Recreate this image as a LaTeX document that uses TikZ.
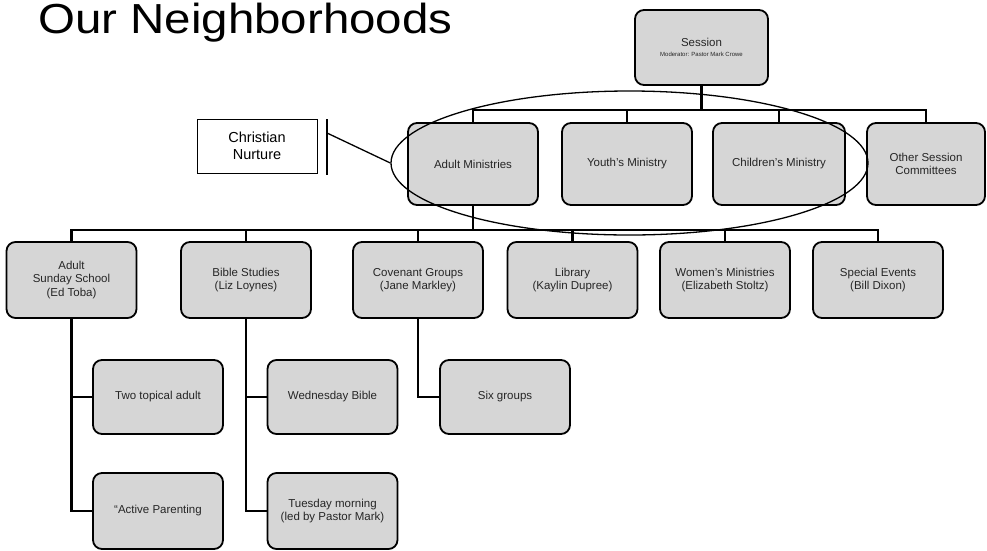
\documentclass[tikz,border=0pt]{standalone}
\usepackage{fontspec}
\setmainfont{Liberation Sans}
\newfontfamily\titlefont[FakeStretch=1.13]{Liberation Sans}
\usetikzlibrary{shapes.geometric}
\tikzset{
  orgbox/.style={draw, line width=1.8pt, rounded corners=9pt, fill=black!16,
    minimum width=130pt, minimum height=76pt, inner sep=2pt, align=center,
    text=black!85, font=\fontsize{11.5}{13.5}\selectfont},
  conn/.style={line width=2.6pt},
  thinline/.style={line width=1.3pt}
}
\begin{document}
\begin{tikzpicture}[x=1pt,y=-1pt]
\useasboundingbox (0,0) rectangle (987,550);
\fill[white] (0,0) rectangle (987,550);

\node[anchor=base west, inner sep=0, font=\titlefont\fontsize{42}{46}\selectfont] (title) at (38,33) {Our Neighborhoods};

% Level 1
\node[orgbox, minimum width=133pt, minimum height=75pt] (session) at (701.5,47.5)
  {Session\\[-3pt]{\fontsize{6}{7}\selectfont Moderator: Pastor Mark Crowe}};

% Level 2
\node[orgbox, minimum height=82pt] (adultm) at (473,164) {Adult Ministries};
\node[orgbox, minimum height=82pt] (youth) at (627,164) {Youth's Ministry};
\node[orgbox, minimum height=82pt, minimum width=132pt] (child) at (779,164) {Children's Ministry};
\node[orgbox, minimum height=82pt, minimum width=118pt] (other) at (926,164) {Other Session\\Committees};

% Level 3
\node[orgbox] (asun) at (71.5,280) {Adult\\Sunday School\\(Ed Toba)};
\node[orgbox] (bible) at (246,280) {Bible Studies\\(Liz Loynes)};
\node[orgbox] (cov) at (418,280) {Covenant Groups\\(Jane Markley)};
\node[orgbox] (lib) at (572.5,280) {Library\\(Kaylin Dupree)};
\node[orgbox] (women) at (725,280) {Women's Ministries\\(Elizabeth Stoltz)};
\node[orgbox] (spec) at (878,280) {Special Events\\(Bill Dixon)};

% Level 4
\node[orgbox, minimum height=74pt] (two) at (158,397) {Two topical adult};
\node[orgbox, minimum height=74pt] (wed) at (332.5,397) {Wednesday Bible};
\node[orgbox, minimum height=74pt] (six) at (505,397) {Six groups};
\node[orgbox] (act) at (158,511) {“Active Parenting};
\node[orgbox] (tue) at (332.5,511) {Tuesday morning\\(led by Pastor Mark)};

% Connectors level 1 -> 2
\coordinate (b2) at (0,110);
\foreach \c in {adultm,youth,child,other}
  \draw[conn] (session.south) |- (\c.north |- b2) -- (\c.north);

% Connectors level 2 -> 3
\coordinate (b3) at (0,230);
\foreach \c in {asun,bible,cov,lib,women,spec}
  \draw[conn] (adultm.south) |- (\c.north |- b3) -- (\c.north);

% Connectors level 3 -> 4
\draw[conn] (asun.south) |- (two.west);
\draw[conn] (asun.south) |- (act.west);
\draw[conn] (bible.south) |- (wed.west);
\draw[conn] (bible.south) |- (tue.west);
\draw[conn] (cov.south) |- (six.west);

% Christian Nurture ring and callout
\node[ellipse, draw, thinline, minimum width=477pt, minimum height=144pt, inner sep=0] (ring) at (629.5,163) {};
\node[draw, line width=1pt, minimum width=120pt, minimum height=54pt, align=center,
  font=\fontsize{14.5}{17.5}\selectfont, inner sep=1pt] (cn) at (257,146) {Christian\\Nurture};
\coordinate (cnt) at (327,119);
\coordinate (cnb) at (327,175);
\coordinate (cnp) at (327,133);
\draw[line width=1.2pt] (cnt) -- (cnb);
\draw[thinline] (cnp) -- (ring.west);
\end{tikzpicture}
\end{document}
